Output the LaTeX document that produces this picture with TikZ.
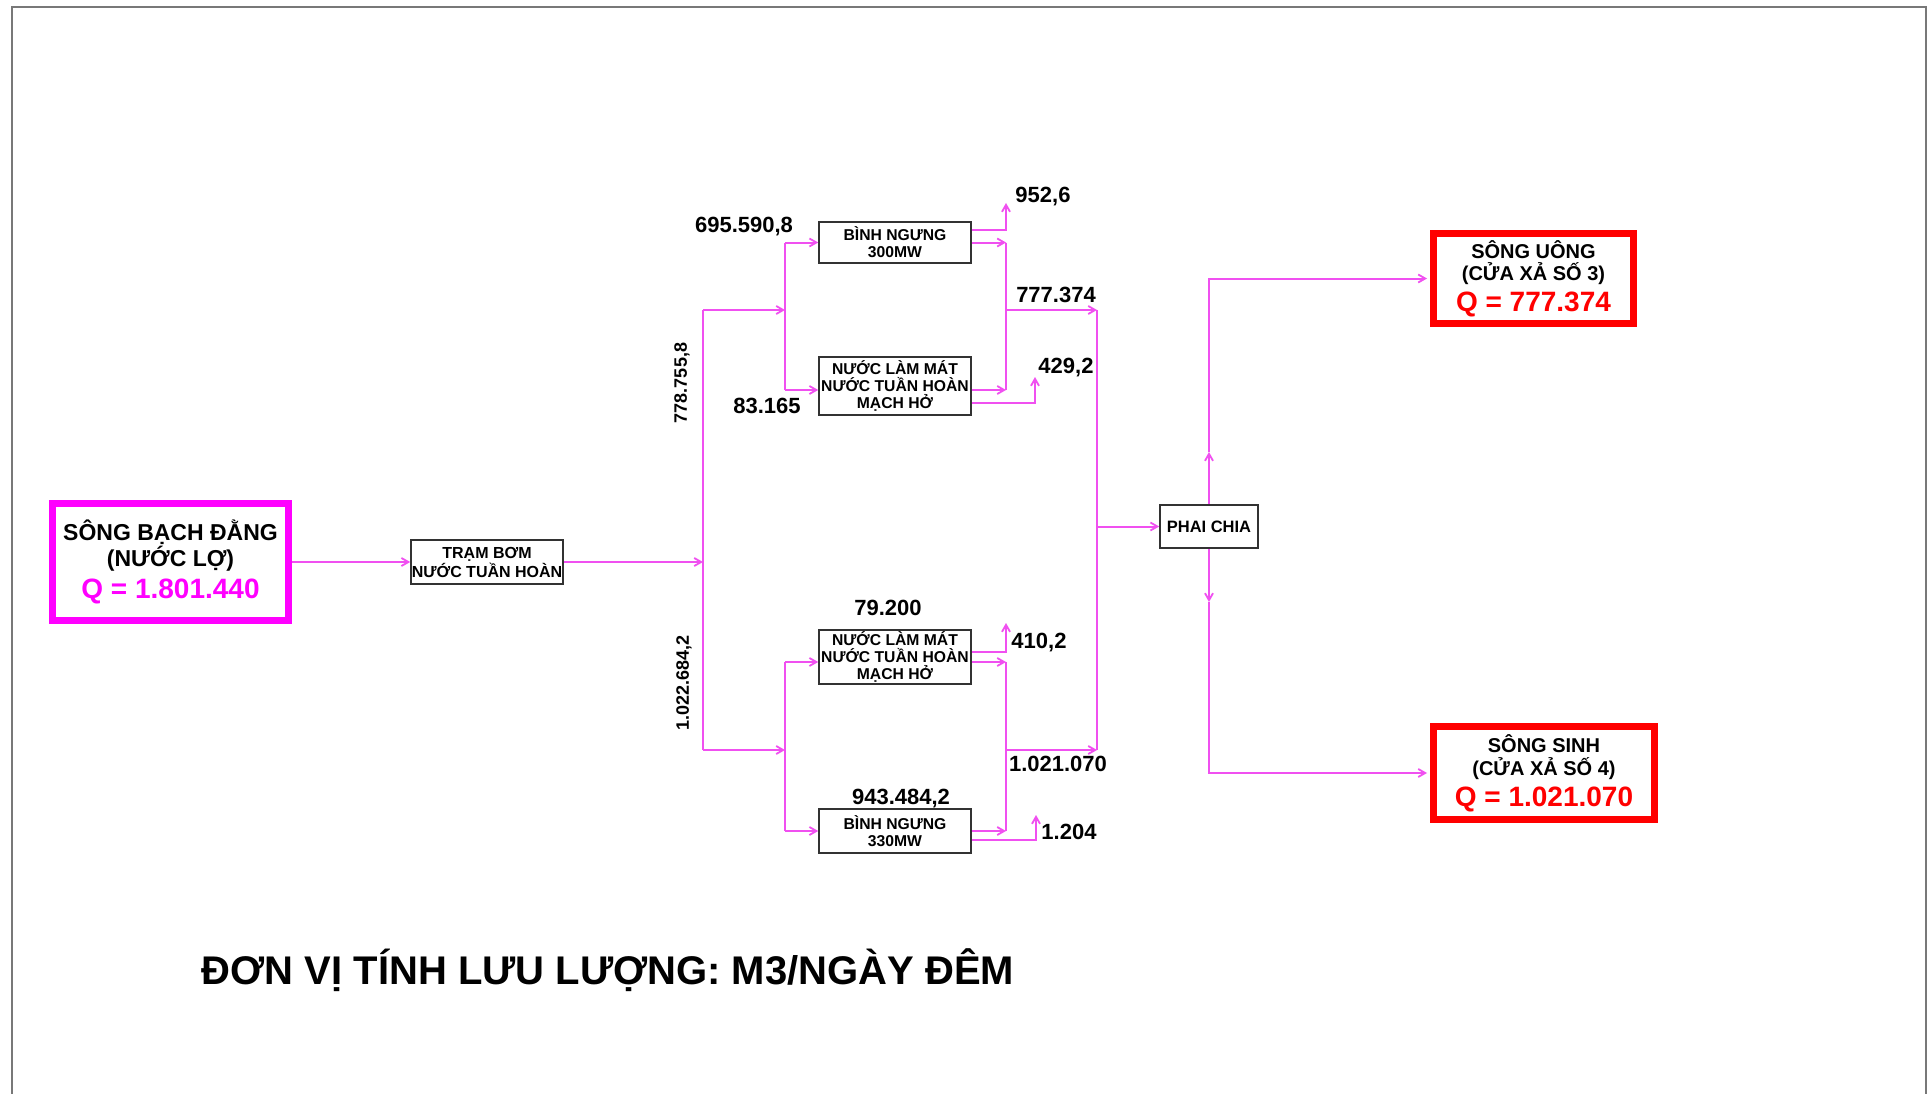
\documentclass[tikz,border=0pt]{standalone}
\usepackage{fontspec}
\setmainfont{Liberation Sans}
\usetikzlibrary{arrows.meta}
\definecolor{lmag}{RGB}{240,80,240}
\definecolor{mag}{RGB}{255,0,255}
\definecolor{rd}{RGB}{255,0,0}
\definecolor{frm}{RGB}{120,120,120}
\definecolor{bx}{RGB}{50,50,50}
\begin{document}
\begin{tikzpicture}[x=1pt,y=-1pt,
  line/.style={draw=lmag,line width=2pt},
  flow/.style={line,-{Straight Barb[length=7pt,width=8pt,line width=1.8pt]}},
  sbox/.style={draw=bx,line width=1.6pt,fill=white,inner sep=0pt,align=center,minimum width=152pt,
    font=\bfseries\fontsize{15.7}{17}\selectfont},
  bigbox/.style={line width=7pt,inner sep=0pt,align=center,fill=white},
  lbl/.style={inner sep=0pt,font=\bfseries\fontsize{22}{24}\selectfont},
  vlbl/.style={inner sep=0pt,rotate=90,font=\bfseries\fontsize{18}{20}\selectfont}]
\useasboundingbox (0,0) rectangle (1930,1094);
\fill[white] (0,0) rectangle (1930,1094);
\draw[frm,line width=2.5pt] (12,1094) -- (12,7) -- (1926,7) -- (1926,1094);

% main boxes
\node[bigbox,draw=mag,minimum width=236pt,minimum height=117pt,font=\bfseries\fontsize{23}{26}\selectfont] (src) at (170.5,562)
  {SÔNG BẠCH ĐẰNG\\(NƯỚC LỢ)\\[6pt]\color{mag}\fontsize{28}{31}\selectfont Q = 1.801.440};
\node[sbox,minimum height=44pt,font=\bfseries\fontsize{16}{19}\selectfont] (tram) at (487,562) {TRẠM BƠM\\NƯỚC TUẦN HOÀN};
\node[sbox,minimum height=41pt] (bn300) at (895,242.5) {BÌNH NGƯNG\\300MW};
\node[sbox,minimum height=58pt] (nlm1) at (895,386) {NƯỚC LÀM MÁT\\NƯỚC TUẦN HOÀN\\MẠCH HỞ};
\node[sbox,minimum height=54pt] (nlm2) at (895,657) {NƯỚC LÀM MÁT\\NƯỚC TUẦN HOÀN\\MẠCH HỞ};
\node[sbox,minimum height=44pt] (bn330) at (895,831) {BÌNH NGƯNG\\330MW};
\node[sbox,minimum width=98pt,minimum height=43pt,font=\bfseries\fontsize{16.5}{18}\selectfont] (pc) at (1209,526.5) {PHAI CHIA};
\node[bigbox,draw=rd,minimum width=200pt,minimum height=90pt,font=\bfseries\fontsize{20}{22}\selectfont] (uong) at (1533.5,278.5)
  {SÔNG UÔNG\\(CỬA XẢ SỐ 3)\\[6pt]\color{rd}\fontsize{28}{29}\selectfont Q = 777.374};
\node[bigbox,draw=rd,minimum width=221pt,minimum height=93pt,font=\bfseries\fontsize{20}{23}\selectfont] (sinh) at (1544,773)
  {SÔNG SINH\\(CỬA XẢ SỐ 4)\\[6pt]\color{rd}\fontsize{28}{29}\selectfont Q = 1.021.070};

% junction coordinates
\coordinate (tin) at (703,562);
\coordinate (tU) at (703,310);
\coordinate (tD) at (703,750);
\coordinate (bU) at (785,310);
\coordinate (bD) at (785,750);
\coordinate (bU1) at (785,242.5);
\coordinate (bU2) at (785,390);
\coordinate (bD1) at (785,662);
\coordinate (bD2) at (785,831);
\coordinate (c1) at (1006,242.5);
\coordinate (c2) at (1006,390);
\coordinate (cU) at (1006,310);
\coordinate (c3) at (1006,662);
\coordinate (c4) at (1006,831);
\coordinate (cD) at (1006,750);
\coordinate (k1) at (1097,310);
\coordinate (k2) at (1097,750);
\coordinate (d1) at (1006,203);
\coordinate (d2) at (1035,377);
\coordinate (d3) at (1006,623);
\coordinate (d4) at (1036,815);
\coordinate (pcU) at (1209,452);
\coordinate (pcD) at (1209,602);

% main flow
\draw[flow] (src.east) -- (tram.west);
\draw[flow] (tram.east) -- (tin);
\draw[line] (tU) -- (tD);
\draw[flow] (tU) -- (bU);
\draw[flow] (tD) -- (bD);
\draw[line] (bU1) -- (bU2);
\draw[line] (bD1) -- (bD2);
\draw[flow] (bU1) -- (bn300.west);
\draw[flow] (bU2) -- (nlm1.west |- bU2);
\draw[flow] (bD1) -- (nlm2.west |- bD1);
\draw[flow] (bD2) -- (bn330.west);

% outputs to collectors
\draw[flow] (bn300.east) -- (c1);
\draw[flow] (nlm1.east |- c2) -- (c2);
\draw[line] (c1) -- (c2);
\draw[flow] (nlm2.east |- c3) -- (c3);
\draw[flow] (bn330.east) -- (c4);
\draw[line] (c3) -- (c4);
\draw[flow] (cU) -- (k1);
\draw[flow] (cD) -- (k2);
\draw[line] (k1) -- (k2);
\draw[flow] (k1 |- pc) -- (pc.west);

% discharges
\draw[flow] ([yshift=12.5pt]bn300.east) -| (d1);
\draw[flow] ([yshift=-17pt]nlm1.east) -| (d2);
\draw[flow] ([yshift=5pt]nlm2.east) -| (d3);
\draw[flow] ([yshift=-9pt]bn330.east) -| (d4);

% split
\draw[flow] (pc.north) -- (pcU);
\draw[flow] (pcU) |- ([xshift=-3pt]uong.west);
\draw[flow] (pc.south) -- (pcD);
\draw[flow] (pcD) |- ([xshift=-3pt]sinh.west);

% labels
\node[lbl] (l1) at (744,227) {695.590,8};
\node[lbl] (l2) at (767,406) {83.165};
\node[lbl] (l3) at (1043,197) {952,6};
\node[lbl] (l4) at (1056,295) {777.374};
\node[lbl] (l5) at (1066,368) {429,2};
\node[lbl] (l6) at (888,608) {79.200};
\node[lbl] (l7) at (1039,643) {410,2};
\node[lbl] (l8) at (1058,764) {1.021.070};
\node[lbl] (l9) at (901,799) {943.484,2};
\node[lbl] (l10) at (1069,832) {1.204};
\node[vlbl] (v1) at (682,383) {778.755,8};
\node[vlbl] (v2) at (684,683) {1.022.684,2};

\node[inner sep=0pt,font=\bfseries\fontsize{40}{44}\selectfont] (title) at (608,970) {ĐƠN VỊ TÍNH LƯU LƯỢNG: M3/NGÀY ĐÊM};
\end{tikzpicture}
\end{document}
